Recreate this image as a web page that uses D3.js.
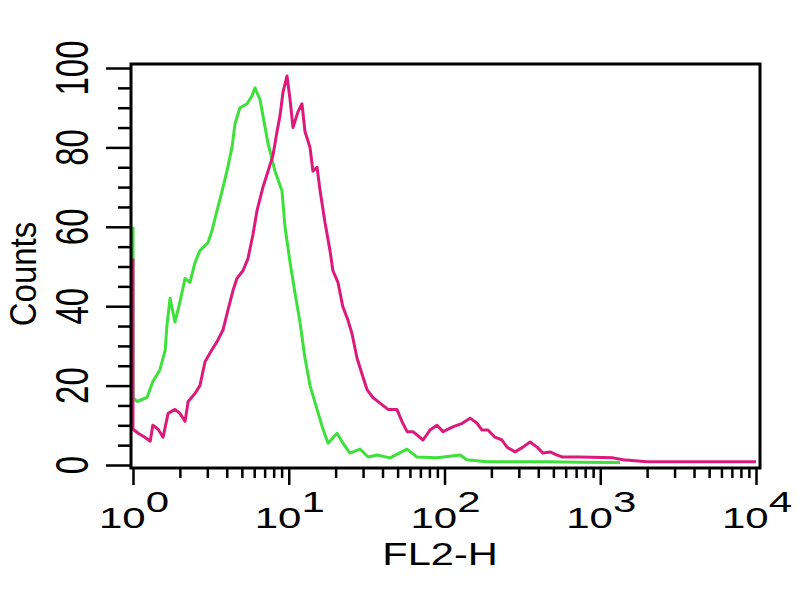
<!DOCTYPE html>
<html>
<head>
<meta charset="utf-8">
<script src="https://cdn.jsdelivr.net/npm/d3@7"></script>
<style>
html,body{margin:0;padding:0;background:#fff;}
svg{display:block;}
text{font-family:"Liberation Sans",Arial,Helvetica,sans-serif;fill:#000;}
</style>
</head>
<body>
<svg id="chart" width="800" height="600"></svg>
<script>
// ---- data ----
const xTickValues = [1, 10, 100, 1000, 10000];
const xTickExponents = ["0", "1", "2", "3", "4"];
const yTickValues = [0, 20, 40, 60, 80, 100];
const xLabel = "FL2-H";
const yLabel = "Counts";

const greenX = [1, 1, 1.06, 1.23, 1.34, 1.49, 1.61, 1.65, 1.73, 1.86, 2.0, 2.16, 2.32, 2.5, 2.69, 3.03, 3.21, 3.46, 3.73, 4.01, 4.32, 4.52, 4.86, 5.4, 5.81, 6.07, 6.54, 6.83, 7.36, 8.16, 9.05, 9.46, 10.2, 11.0, 11.8, 12.7, 13.7, 15.2, 16.6, 17.9, 20.4, 22.3, 24.7, 28.7, 32.3, 36.9, 44.7, 57.5, 66.6, 89.5, 126, 139, 187, 275, 455, 741, 1340];
const greenY = [60, 17, 16, 17, 21, 24, 29, 35, 42, 36, 41, 47, 46, 51, 54, 56, 59, 64, 69, 74, 80, 86, 90, 91, 93, 95, 92, 88, 81, 74, 69, 60, 51, 43, 36, 27, 20, 14, 9, 5.5, 8, 5.5, 3, 4, 2, 2.5, 1.8, 4, 2, 1.8, 2.5, 1.3, 0.8, 0.8, 0.8, 0.7, 0.6];

const magentaX = [1, 1, 1.08, 1.19, 1.29, 1.34, 1.45, 1.56, 1.68, 1.86, 2.0, 2.16, 2.26, 2.5, 2.69, 2.9, 3.21, 3.46, 3.78, 4.07, 4.39, 4.65, 5.09, 5.47, 5.89, 6.25, 6.83, 7.36, 7.92, 8.41, 8.79, 9.19, 9.75, 10.2, 10.65, 11.47, 12.16, 12.71, 13.69, 14.3, 15.2, 15.9, 17.1, 18.4, 19.2, 20.7, 22.2, 24.0, 25.5, 27.4, 29.5, 31.8, 34.7, 38.5, 43.4, 49.5, 53.3, 57.5, 62.8, 72.8, 80.7, 89.5, 97.8, 113, 130, 146, 162, 174, 190, 211, 234, 252, 284, 319, 354, 393, 429, 476, 528, 576, 741, 1207, 1400, 1995, 3250, 10000];
const magentaY = [52, 9, 8, 7, 6, 10, 9, 7, 13, 14, 13, 11, 16, 18, 20, 26, 29, 31, 34, 39, 44, 47, 49, 52, 58, 64, 70, 74, 78, 84, 88, 94, 98, 92, 85, 89, 91, 84, 80, 74, 75, 69, 61, 54, 49, 46, 40, 36.5, 33, 27, 23, 19, 17, 15.6, 14, 14, 11, 8.4, 8.4, 6.3, 8.8, 10, 8.4, 9.6, 10.5, 11.8, 10.5, 8.8, 8.8, 7, 6.3, 4.5, 3.3, 4.5, 5.8, 4.5, 3, 3.3, 2.5, 2, 2, 1.8, 1.3, 0.8, 0.8, 0.8];

// ---- chart ----
const svg = d3.select("#chart");
const x = d3.scaleLog().domain([1, 10000]).range([133, 756]);
const y = d3.scaleLinear().domain([0, 100]).range([465, 68]);
const frame = {left: 131, top: 64, right: 760, bottom: 468};
const SX = 1.4; // horizontal stretch of the reference

svg.append("rect").attr("width", 800).attr("height", 600).attr("fill", "#fff");

const line = d3.line().x(d => x(d[0])).y(d => y(d[1]));

svg.append("defs").append("clipPath").attr("id", "clip")
  .append("rect").attr("x", frame.left).attr("y", frame.top)
  .attr("width", frame.right - frame.left).attr("height", frame.bottom - frame.top);

const g = svg.append("g").attr("clip-path", "url(#clip)");
g.append("path").datum(d3.zip(greenX, greenY))
  .attr("d", line).attr("fill", "none").attr("stroke", "#3ee03a")
  .attr("stroke-width", 3).attr("stroke-linejoin", "round");
g.append("path").datum(d3.zip(magentaX, magentaY))
  .attr("d", line).attr("fill", "none").attr("stroke", "#dc1a7c")
  .attr("stroke-width", 3).attr("stroke-linejoin", "round");

// y axis ticks
const yMinor = d3.range(0, 101, 5).filter(v => v % 20 !== 0);
function styleAxis(sel) {
  sel.select(".domain").remove();
  sel.selectAll(".tick line").attr("stroke", "#000").attr("stroke-width", 2.5);
  sel.selectAll(".tick text").remove();
}
svg.append("g").attr("transform", `translate(${frame.left},0)`)
  .call(d3.axisLeft(y).tickValues(yTickValues).tickSize(25).tickFormat(""))
  .call(styleAxis);
svg.append("g").attr("transform", `translate(${frame.left},0)`)
  .call(d3.axisLeft(y).tickValues(yMinor).tickSize(13).tickFormat(""))
  .call(styleAxis);

// x axis ticks
const xMinor = [];
for (let d = 1; d < 10000; d *= 10) for (let k = 2; k <= 9; k++) xMinor.push(d * k);
svg.append("g").attr("transform", `translate(0,${frame.bottom})`)
  .call(d3.axisBottom(x).tickValues(xTickValues).tickSize(17).tickFormat(""))
  .call(styleAxis);
svg.append("g").attr("transform", `translate(0,${frame.bottom})`)
  .call(d3.axisBottom(x).tickValues(xMinor).tickSize(10).tickFormat(""))
  .call(styleAxis);

// frame
svg.append("rect").attr("x", frame.left).attr("y", frame.top)
  .attr("width", frame.right - frame.left).attr("height", frame.bottom - frame.top)
  .attr("fill", "none").attr("stroke", "#000").attr("stroke-width", 3);

// y tick labels (rotated)
svg.append("g").selectAll("text").data(yTickValues).join("text")
  .attr("transform", d => `translate(88,${y(d)}) scale(${SX},1) rotate(-90)`)
  .attr("text-anchor", "middle").attr("font-size", 33)
  .text(d => d);

// x tick labels with superscripts
const xl = svg.append("g").selectAll("text").data(xTickValues).join("text")
  .attr("transform", d => `translate(${x(d) + 1},528) scale(${SX},1)`)
  .attr("text-anchor", "middle").attr("font-size", 30);
xl.append("tspan").text("10");
xl.append("tspan").attr("dy", -16).text((d, i) => xTickExponents[i]);

// axis titles
svg.append("text").attr("transform", `translate(440,565) scale(1.3,1)`)
  .attr("text-anchor", "middle").attr("font-size", 32).text(xLabel);
svg.append("text").attr("transform", `translate(36,274) scale(1.1,1) rotate(-90)`)
  .attr("text-anchor", "middle").attr("font-size", 33).text(yLabel);
</script>
</body>
</html>
